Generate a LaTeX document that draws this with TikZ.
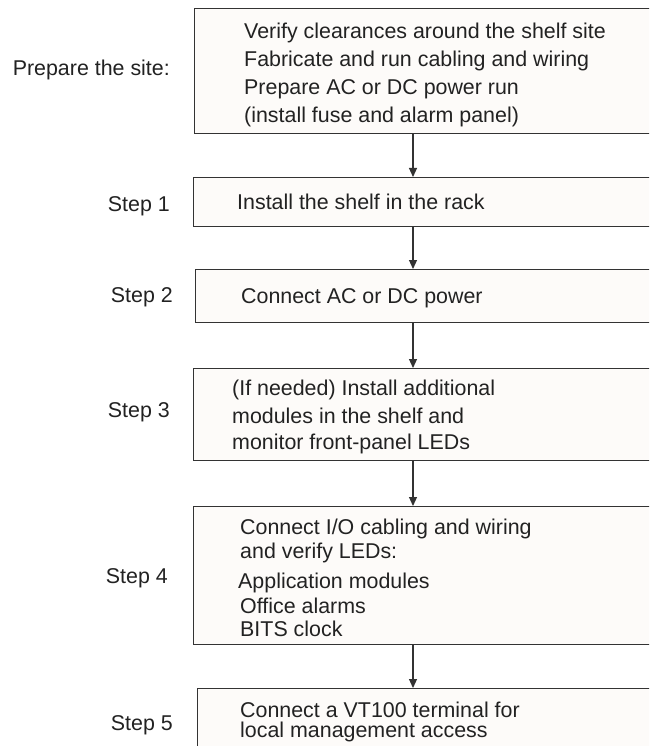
\documentclass[tikz,border=0pt]{standalone}
\usepackage{fontspec}
\setmainfont{Liberation Sans}
\usetikzlibrary{arrows.meta}
\definecolor{boxfill}{HTML}{FDFBF9}
\definecolor{ink}{HTML}{222222}
\definecolor{edge}{HTML}{333333}
\tikzset{
  stepbox/.style={draw=edge, line width=1.3pt, fill=boxfill, anchor=north west, inner sep=0pt, minimum width=480pt},
  txt/.style={anchor=base west, inner sep=0pt, text=ink, font=\fontsize{21.4}{25}\selectfont},
  lbl/.style={anchor=base east, inner sep=0pt, text=ink, font=\fontsize{21.4}{25}\selectfont},
  arr/.style={draw=edge, line width=1.2pt, -{Triangle[width=8pt,length=9pt]}}
}
\begin{document}
\begin{tikzpicture}[x=1pt,y=-1pt]
\useasboundingbox (0,0) rectangle (649,746);
\clip (0,0) rectangle (649,746);
\fill[white] (0,0) rectangle (649,746);
\coordinate (ax) at (413,0);
% boxes
\node[stepbox, minimum height=125pt] (b0) at (194,8) {};
\node[stepbox, minimum height=49pt] (b1) at (193,177) {};
\node[stepbox, minimum height=53pt] (b2) at (195,269) {};
\node[stepbox, minimum height=92pt] (b3) at (193,368) {};
\node[stepbox, minimum height=138pt] (b4) at (193,506) {};
\node[stepbox, minimum height=80pt] (b5) at (197,688) {};
% arrows
\draw[arr] (b0.south -| ax) -- (b1.north -| ax);
\draw[arr] (b1.south -| ax) -- (b2.north -| ax);
\draw[arr] (b2.south -| ax) -- (b3.north -| ax);
\draw[arr] (b3.south -| ax) -- (b4.north -| ax);
\draw[arr] (b4.south -| ax) -- (b5.north -| ax);
% box texts
\node[txt] (t0a) at (244,39) {Verify clearances around the shelf site};
\node[txt] (t0b) at (244,67) {Fabricate and run cabling and wiring};
\node[txt] (t0c) at (244,95) {Prepare AC or DC power run};
\node[txt] (t0d) at (244,123) {(install fuse and alarm panel)};
\node[txt] (t1) at (237,209) {Install the shelf in the rack};
\node[txt] (t2) at (241,303) {Connect AC or DC power};
\node[txt] (t3a) at (232,395) {(If needed) Install additional};
\node[txt] (t3b) at (232,423) {modules in the shelf and};
\node[txt] (t3c) at (232,449) {monitor front-panel LEDs};
\node[txt] (t4a) at (240,534) {Connect I/O cabling and wiring};
\node[txt] (t4b) at (240,558) {and verify LEDs:};
\node[txt] (t4c) at (238,588) {Application modules};
\node[txt] (t4d) at (240,613) {Office alarms};
\node[txt] (t4e) at (240,636) {BITS clock};
\node[txt] (t5a) at (240,717) {Connect a VT100 terminal for};
\node[txt] (t5b) at (240,737) {local management access};
% side labels
\node[lbl] (l0) at (170,76) {Prepare the site:};
\node[lbl] (l1) at (170,211) {Step 1};
\node[lbl] (l2) at (173,302) {Step 2};
\node[lbl] (l3) at (170,417) {Step 3};
\node[lbl] (l4) at (168,583) {Step 4};
\node[lbl] (l5) at (173,730) {Step 5};
\end{tikzpicture}
\end{document}
